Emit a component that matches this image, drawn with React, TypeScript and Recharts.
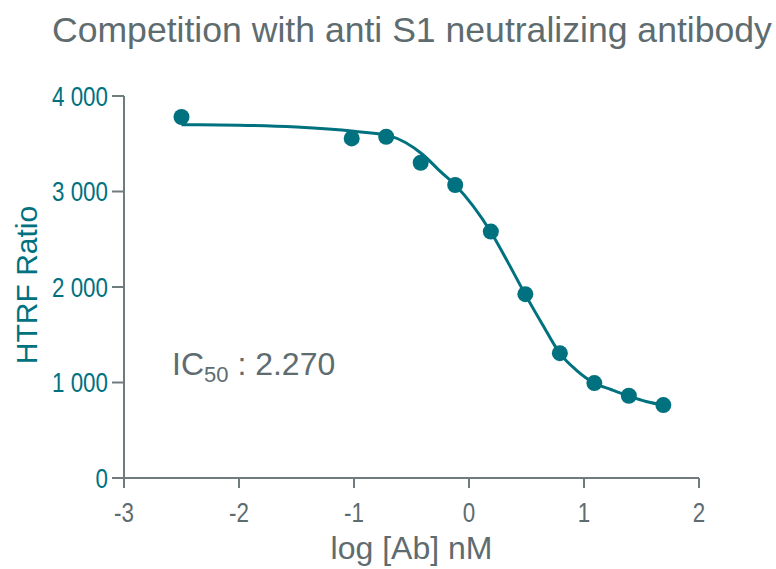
import React from 'react';
import { ComposedChart, Line, Scatter, XAxis, YAxis } from 'recharts';

const TEAL = '#00717f';
const GREY = '#5e6c6f';
const AXIS = '#6f7b7d';
const FONT = '"Liberation Sans", Arial, sans-serif';

// measured points: log [Ab] nM vs HTRF ratio
const pointX = [-2.5, -1.02, -0.72, -0.42, -0.12, 0.19, 0.49, 0.79, 1.09, 1.39, 1.69];
const pointY = [3780, 3556, 3573, 3301, 3068, 2580, 1925, 1307, 994, 861, 764];

// fitted curve
const curveX = [-2.5, -2.0, -1.5, -1.0, -0.7, -0.4, -0.25, -0.12, 0.19, 0.34, 0.49, 0.64, 0.79, 0.93, 1.09, 1.24, 1.39, 1.54, 1.69];
const curveY = [3700, 3695, 3675, 3630, 3585, 3385, 3210, 3068, 2575, 2255, 1920, 1605, 1305, 1133, 994, 924, 858, 801, 764];

const xTicks = [-3, -2, -1, 0, 1, 2];
const yTicks = [0, 1000, 2000, 3000, 4000];

const points = pointX.map((x, i) => ({ x, y: pointY[i] }));
const curve = curveX.map((x, i) => ({ x, fit: curveY[i] }));

const fmtY = (v: number) => String(v).replace(/\B(?=(\d{3})+(?!\d))/g, ' ');

// tick labels in the source are set in a narrow face
const NarrowTick = ({ x, y, payload, fill, anchor, dy, fmt }: any) => (
  <g transform={`translate(${x},${y}) scale(0.8,1)`}>
    <text x={0} y={0} dy={dy} textAnchor={anchor} fill={fill} fontSize={28} fontFamily={FONT}>
      {fmt ? fmt(payload.value) : payload.value}
    </text>
  </g>
);

const App: React.FC = () => {
  return (
    <div style={{ position: 'absolute', left: 0, top: 0, width: 776, height: 569, background: '#fff', fontFamily: FONT }}>
      <div style={{ position: 'absolute', left: 52, top: 10, fontSize: 35.6, color: GREY, whiteSpace: 'nowrap' }}>
        Competition with anti S1 neutralizing antibody
      </div>
      <ComposedChart width={776} height={569} margin={{ top: 96, right: 77, bottom: 0, left: 0 }}>
        <XAxis
          dataKey="x"
          type="number"
          domain={[-3, 2]}
          ticks={xTicks}
          allowDataOverflow
          height={91}
          stroke={AXIS}
          strokeWidth={2}
          tickSize={10}
          tickMargin={14}
          tick={<NarrowTick fill={GREY} anchor="middle" dy="0.71em" />}
        />
        <YAxis
          type="number"
          domain={[0, 4000]}
          ticks={yTicks}
          width={124}
          stroke={AXIS}
          strokeWidth={2}
          tickSize={12}
          tickMargin={4}
          tick={<NarrowTick fill={TEAL} anchor="end" dy="0.355em" fmt={fmtY} />}
        />
        <Line
          data={curve}
          dataKey="fit"
          type="monotone"
          stroke={TEAL}
          strokeWidth={3}
          dot={false}
          activeDot={false}
          isAnimationActive={false}
        />
        <Scatter data={points} dataKey="y" fill={TEAL} shape={(p: any) => <circle cx={p.cx} cy={p.cy} r={8} fill={TEAL} />} isAnimationActive={false} />
      </ComposedChart>
      <div style={{ position: 'absolute', left: 0, top: 530, width: 823, textAlign: 'center', fontSize: 32, color: GREY }}>
        log [Ab] nM
      </div>
      <div
        style={{
          position: 'absolute',
          left: 27,
          top: 285,
          transform: 'translate(-50%, -50%) rotate(-90deg)',
          fontSize: 30,
          color: TEAL,
          whiteSpace: 'nowrap',
        }}
      >
        HTRF Ratio
      </div>
      <div style={{ position: 'absolute', left: 172, top: 346, fontSize: 32, color: GREY, whiteSpace: 'nowrap' }}>
        IC<sub style={{ fontSize: 22, verticalAlign: -7 }}>50</sub> : 2.270
      </div>
    </div>
  );
};

export default App;
